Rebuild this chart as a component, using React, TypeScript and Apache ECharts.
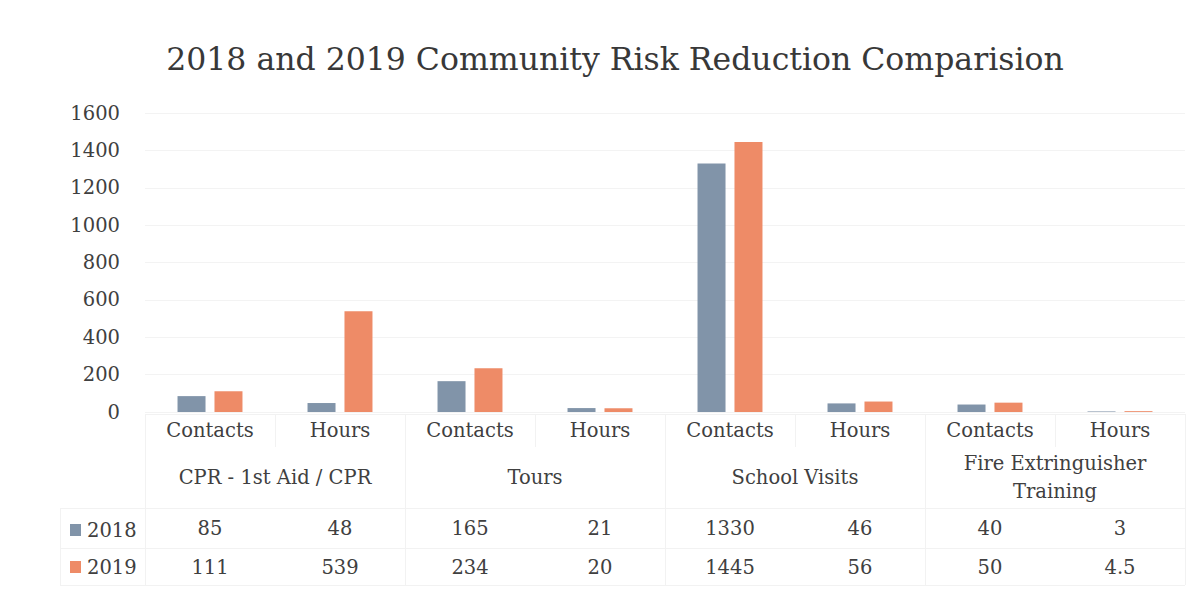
import React, { useEffect, useRef } from "react";
import * as echarts from "echarts";

const titleText = "2018 and 2019 Community Risk Reduction Comparision";
const subCategories = ["Contacts", "Hours", "Contacts", "Hours", "Contacts", "Hours", "Contacts", "Hours"];
const groups = ["CPR - 1st Aid / CPR", "Tours", "School Visits", "Fire Extringuisher\nTraining"];
const seriesNames = ["2018", "2019"];
const values2018 = [85, 48, 165, 21, 1330, 46, 40, 3];
const values2019 = [111, 539, 234, 20, 1445, 56, 50, 4.5];
const yTicks = { min: 0, max: 1600, interval: 200 };

const FONT = "DejaVu Serif";
const TEXT = "#404040";
const COLORS = ["#8194a9", "#ee8b67"];

export default function App() {
  const ref = useRef<HTMLDivElement>(null);
  useEffect(() => {
    if (!ref.current) return;
    const chart = echarts.init(ref.current, null, { renderer: "svg" });
    const gridLeft = 145;
    const gridRight = 1185;
    const gridTop = 113;
    const gridBottom = 412;
    const colW = (gridRight - gridLeft) / subCategories.length;
    const lineColor = "#f2f2f2";
    const graphics: any[] = [];
    for (let i = 0; i <= subCategories.length; i++) {
      const x = Math.round(gridLeft + i * colW) + 0.5;
      const isGroup = i % 2 === 0;
      graphics.push({
        type: "line",
        shape: { x1: x, y1: 414, x2: x, y2: isGroup ? 585 : 447 },
        style: { stroke: lineColor, lineWidth: 1 },
        silent: true,
      });
    }
    [414, 508, 548, 585].forEach((y) => {
      graphics.push({
        type: "line",
        shape: { x1: y >= 508 ? 60 : gridLeft, y1: y + 0.5, x2: gridRight, y2: y + 0.5 },
        style: { stroke: lineColor, lineWidth: 1 },
        silent: true,
      });
    });
    graphics.push({
      type: "line",
      shape: { x1: 60.5, y1: 508, x2: 60.5, y2: 585 },
      style: { stroke: lineColor, lineWidth: 1 },
      silent: true,
    });
    // legend keys of the data table
    const rowY = [530, 567];
    seriesNames.forEach((name, i) => {
      graphics.push({
        type: "rect",
        shape: { x: 70, y: rowY[i] - 6, width: 11, height: 12 },
        style: { fill: COLORS[i] },
        silent: true,
      });
      graphics.push({
        type: "text",
        x: 87,
        y: rowY[i],
        style: {
          text: name,
          fontFamily: FONT,
          fontSize: 19.5,
          fill: TEXT,
          verticalAlign: "middle",
          align: "left",
        },
        silent: true,
      });
    });

    const ids = subCategories.map((_, i) => "c" + i);
    const baseAxis = {
      type: "category",
      position: "bottom",
      axisLine: { show: false },
      axisTick: { show: false },
      splitLine: { show: false },
    };
    const labelStyle = {
      fontFamily: FONT,
      fontSize: 19.5,
      color: TEXT,
      interval: 0,
      verticalAlign: "middle",
    };

    chart.setOption({
      animation: false,
      backgroundColor: "#ffffff",
      textStyle: { fontFamily: FONT, color: TEXT },
      title: {
        text: titleText,
        left: 610,
        textAlign: "center",
        top: 38,
        textStyle: { fontFamily: FONT, fontSize: 31.5, fontWeight: "normal", color: "#383838" },
      },
      legend: { show: false, data: seriesNames },
      graphic: graphics,
      grid: {
        left: gridLeft,
        right: 1204 - gridRight,
        top: gridTop,
        bottom: 590 - gridBottom,
        containLabel: false,
      },
      xAxis: [
        {
          ...baseAxis,
          data: ids,
          axisLabel: { ...labelStyle, margin: 18, formatter: (_v: string, i: number) => subCategories[i] },
        },
        {
          ...baseAxis,
          data: groups.map((_, i) => "g" + i),
          axisLabel: { ...labelStyle, margin: 65, lineHeight: 28, formatter: (_v: string, i: number) => groups[i] },
        },
        {
          ...baseAxis,
          data: ids.map((id) => id + "a"),
          axisLabel: { ...labelStyle, margin: 116, formatter: (_v: string, i: number) => String(values2018[i]) },
        },
        {
          ...baseAxis,
          data: ids.map((id) => id + "b"),
          axisLabel: { ...labelStyle, margin: 155, formatter: (_v: string, i: number) => String(values2019[i]) },
        },
      ],
      yAxis: {
        type: "value",
        min: yTicks.min,
        max: yTicks.max,
        interval: yTicks.interval,
        axisLine: { show: false },
        axisTick: { show: false },
        splitLine: { lineStyle: { color: "#f3f3f3", width: 1 } },
        axisLabel: {
          fontFamily: FONT,
          fontSize: 19.5,
          color: TEXT,
          margin: 25,
          formatter: (v: number) => String(v),
        },
      },
      series: [
        {
          name: seriesNames[0],
          type: "bar",
          xAxisIndex: 0,
          data: values2018,
          barWidth: 28,
          barGap: "32%",
          itemStyle: { color: COLORS[0] },
        },
        {
          name: seriesNames[1],
          type: "bar",
          xAxisIndex: 0,
          data: values2019,
          barWidth: 28,
          barGap: "32%",
          itemStyle: { color: COLORS[1] },
        },
      ],
    });
    return () => chart.dispose();
  }, []);
  return (
    <div
      ref={ref}
      style={{ position: "fixed", left: 0, top: 0, width: 1204, height: 590, background: "#fff" }}
    />
  );
}
